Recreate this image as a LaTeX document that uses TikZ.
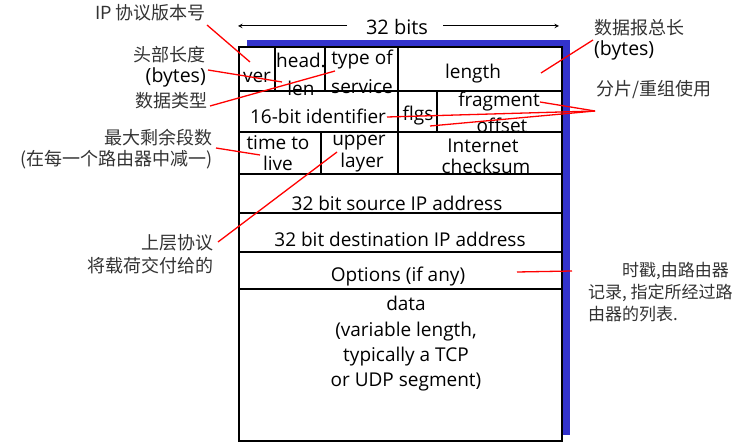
\documentclass[tikz,border=0pt]{standalone}
\usepackage{fontspec}
\setmainfont{Open Sans}
\newfontfamily\cjk{Noto Sans CJK SC}

\definecolor{shadowblue}{RGB}{51,51,204}
\definecolor{notered}{RGB}{255,0,0}

\begin{document}
\begin{tikzpicture}[x=1pt,y=-1pt]
      \clip (0,0) rectangle (740,446);

      % header box with its blue shadow
      \fill[shadowblue] (247,40) rectangle (570,435);
      \fill[white] (239,47) rectangle (562,441);
      \begin{scope}[line width=1.6pt]
        \draw (239,47) rectangle (562,441);
        \foreach \y in {91,132,174,213,252,289}
          \draw (239,\y) -- (562,\y);
        \draw (275,47) -- (275,91);
        \draw (325,47) -- (325,91);
        \draw (398,47) -- (398,174);
        \draw (437,91) -- (437,132);
        \draw (321,132) -- (321,174);
      \end{scope}

      \begin{scope}[->,>=stealth, line width=1pt]
        \node[font=\fontsize{20}{22}\selectfont, inner sep=0pt] (bits) at (397,27) {32 bits};
        \coordinate (bl0) at (347,26);
        \coordinate (bl) at (238,26);
        \coordinate (br0) at (443,26);
        \coordinate (br) at (559,26);
        \draw (bl0) to (bl);
        \draw (br0) to (br);
      \end{scope}

      \begin{scope}[every node/.style={font=\fontsize{19}{21}\selectfont, inner sep=0pt}]
        \node (ver) at (257,77) {ver};
        \node (head) at (301,60) {head.};
        \node (len) at (301,88) {len};
        \node (tos1) at (362,60) {type of};
        \node (tos2) at (362,87) {service};
        \node (length) at (473,74) {length};
        \node (ident) at (318,116) {16-bit identifier};
        \node (flgs) at (418,116) {flgs};
        \node (frag) at (499,102) {fragment};
        \node (offset) at (502,125.5) {offset};
        \node (ttl1) at (278,143) {time to};
        \node (ttl2) at (278,163) {live};
        \node (up1) at (359,143) {upper};
        \node (up2) at (362,163) {layer};
        \node (cks1) at (483,146) {Internet};
        \node (cks2) at (486,166) {checksum};
        \node (src) at (397,203) {32 bit source IP address};
        \node (dst) at (400,239) {32 bit destination IP address};
        \node (opt) at (398,277) {Options (if any)};
        \node[align=center, font=\fontsize{19}{25.3}\selectfont] (data) at (406,344)
          {data\\(variable length,\\typically a TCP\\ or UDP segment)};
      \end{scope}

      % notes on the left and on the right
      \begin{scope}[every node/.style={font=\fontsize{18}{20}\selectfont\cjk, text=black!80, inner sep=0pt}]
        \node[anchor=east] (n0) at (206,13) {IP 协议版本号};
        \node[anchor=east] (n1) at (206,55) {头部长度};
        \node[anchor=east, font=\fontsize{19.5}{21}\selectfont, text=black] (n2) at (206,77) {(bytes)};
        \node[anchor=east] (n3) at (208,101) {数据类型};
        \node[anchor=east] (n4) at (213,138) {最大剩余段数};
        \node[anchor=east] (n5) at (213,160) {(在每一个路由器中减一)};
        \node[anchor=east] (n6) at (214,243) {上层协议};
        \node[anchor=east] (n7) at (214,266) {将载荷交付给的};
        \node[anchor=west] (n8) at (594,28) {数据报总长};
        \node[anchor=west, font=\fontsize{19.5}{21}\selectfont, text=black] (n9) at (594,50) {(bytes)};
        \node[anchor=west] (n10) at (596,90) {分片/重组使用};
        \node[anchor=west, font=\fontsize{17}{19}\selectfont\cjk] (n11) at (622,271) {时戳,由路由器};
        \node[anchor=west, font=\fontsize{17}{19}\selectfont\cjk] (n12) at (588,293) {记录, 指定所经过路};
        \node[anchor=west, font=\fontsize{17}{19}\selectfont\cjk] (n13) at (588,314) {由器的列表.};
      \end{scope}

      % red pointers
      \coordinate (p0) at (207,25);
      \coordinate (p1) at (208,70);
      \coordinate (p3) at (210,106);
      \coordinate (p4) at (216,148);
      \coordinate (p6) at (218,242);
      \coordinate (p8) at (593,40);
      \coordinate (p10) at (595,111);
      \coordinate (q0) at (250,62);
      \coordinate (q1) at (282,82);
      \coordinate (q3) at (335,71);
      \coordinate (q4) at (260,155);
      \coordinate (q6) at (337,152);
      \coordinate (q8) at (541,73);
      \coordinate (q10a) at (540,102);
      \coordinate (q10b) at (387,117);
      \coordinate (q10c) at (430,126);
      \coordinate (q11a) at (517,272);
      \coordinate (q11b) at (572,271);
      \begin{scope}[notered, line width=1.3pt]
        \draw (p0) -- (q0);
        \draw (p1) -- (q1);
        \draw (p3) -- (q3);
        \draw (p4) -- (q4);
        \draw (p6) -- (q6);
        \draw (p8) -- (q8);
        \draw (p10) -- (q10a);
        \draw (p10) -- (q10b);
        \draw (p10) -- (q10c);
        \draw (q11a) -- (q11b);
      \end{scope}
   \end{tikzpicture}
\end{document}
